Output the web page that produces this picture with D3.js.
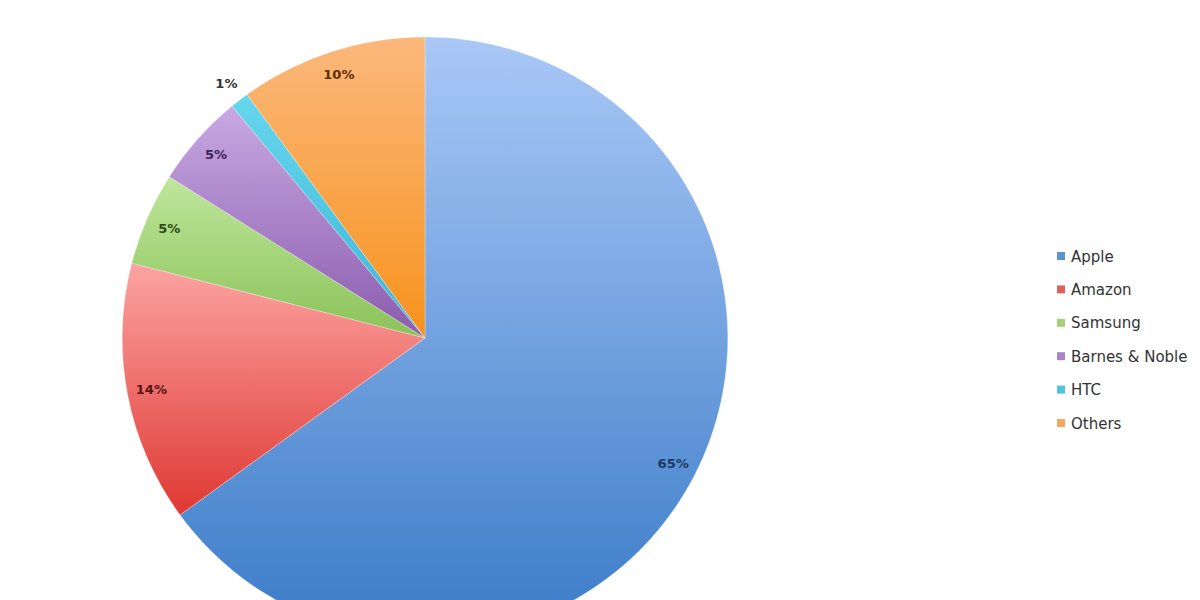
<!DOCTYPE html>
<html>
<head>
<meta charset="utf-8">
<script src="https://cdn.jsdelivr.net/npm/d3@7"></script>
<style>
  html, body { margin: 0; padding: 0; background: #ffffff; }
  svg { display: block; }
</style>
</head>
<body>
<svg id="chart" width="1200" height="600"></svg>
<script>
// ---- data ----
const categories = ["Apple", "Amazon", "Samsung", "Barnes & Noble", "HTC", "Others"];
const shares = [65, 14, 5, 5, 1, 10];
const labels = ["65%", "14%", "5%", "5%", "1%", "10%"];

// ---- styles ----
const topColors    = ["#a9c8f7", "#fca4a2", "#bfe69c", "#c8a8e2", "#66d6ec", "#fbb87c"];
const bottomColors = ["#3a7bc7", "#df3833", "#8ac258", "#8a5cad", "#3db6d8", "#f7921c"];
const legendColors = ["#5b93d3", "#e0605c", "#a4d17a", "#a884c6", "#4ec3e0", "#f5a85c"];
const labelColors  = ["#1d3a66", "#5a1212", "#2e4a10", "#3e2156", "#333333", "#5a2e08"];

const svg = d3.select("#chart");
const cx = 425, cy = 338, r = 301;

const defs = svg.append("defs");
categories.forEach((c, i) => {
  const g = defs.append("linearGradient")
    .attr("id", "grad" + i)
    .attr("x1", 0).attr("y1", 0).attr("x2", 0).attr("y2", 1);
  g.append("stop").attr("offset", "0%").attr("stop-color", topColors[i]);
  g.append("stop").attr("offset", "100%").attr("stop-color", bottomColors[i]);
});

const pie = d3.pie().sort(null).value(d => d)(shares);
const arc = d3.arc().innerRadius(0).outerRadius(r);

const g = svg.append("g").attr("transform", `translate(${cx},${cy}) scale(1.006,1)`);

g.selectAll("path.slice")
  .data(pie)
  .join("path")
  .attr("class", "slice")
  .attr("d", arc)
  .attr("fill", (d, i) => `url(#grad${i})`)
  .attr("stroke", "rgba(255,255,255,0.35)")
  .attr("stroke-width", 0.8);

// labels: inside near the rim, small slices outside
const labelArcIn = d3.arc().innerRadius(r * 0.92).outerRadius(r * 0.92);
const labelArcOut = d3.arc().innerRadius(r * 1.07).outerRadius(r * 1.07);

g.selectAll("text.pct")
  .data(pie)
  .join("text")
  .attr("class", "pct")
  .attr("transform", d => {
    const a = (d.value < 2 ? labelArcOut : labelArcIn).centroid(d);
    return `translate(${a[0]},${a[1]})`;
  })
  .attr("text-anchor", "middle")
  .attr("dy", "0.35em")
  .attr("font-family", "DejaVu Sans, Verdana, sans-serif")
  .attr("font-weight", "bold")
  .attr("font-size", 13)
  .attr("fill", (d, i) => labelColors[i])
  .text((d, i) => labels[i]);

// legend
const legendY = d3.scalePoint().domain(categories).range([256, 423]);
const legend = svg.append("g");
const rows = legend.selectAll("g.row")
  .data(categories)
  .join("g")
  .attr("class", "row")
  .attr("transform", d => `translate(1057,${legendY(d)})`);

rows.append("rect")
  .attr("x", 0).attr("y", -4)
  .attr("width", 8).attr("height", 8)
  .attr("fill", (d, i) => legendColors[i]);

rows.append("text")
  .attr("x", 14)
  .attr("y", 5.5)
  .attr("font-family", "DejaVu Sans, Verdana, sans-serif")
  .attr("font-size", 15)
  .attr("fill", "#333333")
  .text(d => d);
</script>
</body>
</html>
